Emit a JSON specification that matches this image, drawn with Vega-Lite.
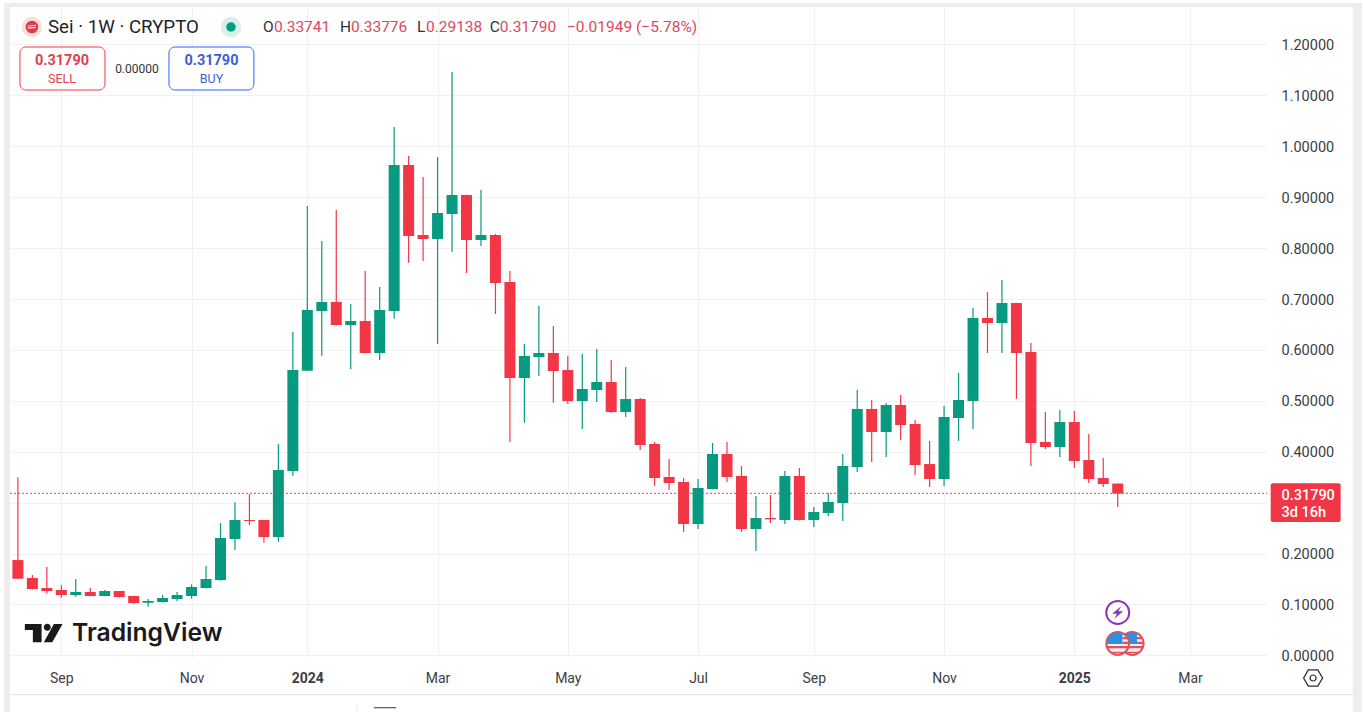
{"$schema":"https://vega.github.io/schema/vega-lite/v6.json","autosize":"none","width":1257,"height":649,"padding":{"left":10,"top":8,"right":96,"bottom":55},"background":"#ffffff","config":{"view":{"stroke":null},"font":"Roboto","axis":{"labelFont":"Roboto"}},
"datasets":{"candles":[
{"date":"2023-08-14","open":0.1872,"high":0.3497,"low":0.1493,"close":0.1505},
{"date":"2023-08-21","open":0.1519,"high":0.1578,"low":0.1289,"close":0.1303},
{"date":"2023-08-28","open":0.1322,"high":0.1735,"low":0.121,"close":0.1263},
{"date":"2023-09-04","open":0.1283,"high":0.1381,"low":0.1132,"close":0.1185},
{"date":"2023-09-11","open":0.1185,"high":0.1499,"low":0.1151,"close":0.1244},
{"date":"2023-09-18","open":0.1244,"high":0.1322,"low":0.116,"close":0.1165},
{"date":"2023-09-25","open":0.1165,"high":0.1283,"low":0.116,"close":0.1263},
{"date":"2023-10-02","open":0.1263,"high":0.1265,"low":0.1135,"close":0.1145},
{"date":"2023-10-09","open":0.1165,"high":0.117,"low":0.1008,"close":0.1027},
{"date":"2023-10-16","open":0.1033,"high":0.1106,"low":0.0955,"close":0.1067},
{"date":"2023-10-23","open":0.1047,"high":0.1185,"low":0.104,"close":0.1126},
{"date":"2023-10-30","open":0.1106,"high":0.1244,"low":0.1067,"close":0.1185},
{"date":"2023-11-06","open":0.1165,"high":0.1395,"low":0.1112,"close":0.1342},
{"date":"2023-11-13","open":0.1322,"high":0.1754,"low":0.1315,"close":0.1499},
{"date":"2023-11-20","open":0.1479,"high":0.2599,"low":0.1465,"close":0.2305},
{"date":"2023-11-27","open":0.2285,"high":0.3006,"low":0.2069,"close":0.2658},
{"date":"2023-12-04","open":0.2658,"high":0.3169,"low":0.256,"close":0.2639},
{"date":"2023-12-11","open":0.2658,"high":0.2665,"low":0.2212,"close":0.2324},
{"date":"2023-12-18","open":0.2324,"high":0.4151,"low":0.2232,"close":0.364},
{"date":"2023-12-25","open":0.3621,"high":0.6352,"low":0.3529,"close":0.5605},
{"date":"2024-01-01","open":0.5591,"high":0.8827,"low":0.5585,"close":0.6784},
{"date":"2024-01-08","open":0.6764,"high":0.8139,"low":0.5886,"close":0.6941},
{"date":"2024-01-15","open":0.6941,"high":0.8749,"low":0.6476,"close":0.6489},
{"date":"2024-01-22","open":0.6489,"high":0.6902,"low":0.5625,"close":0.6568},
{"date":"2024-01-29","open":0.6568,"high":0.755,"low":0.593,"close":0.5939},
{"date":"2024-02-05","open":0.5939,"high":0.7236,"low":0.5802,"close":0.6784},
{"date":"2024-02-12","open":0.6764,"high":1.0379,"low":0.6613,"close":0.9633},
{"date":"2024-02-19","open":0.9633,"high":0.981,"low":0.7713,"close":0.8238},
{"date":"2024-02-26","open":0.8257,"high":0.9397,"low":0.7747,"close":0.8179},
{"date":"2024-03-04","open":0.8179,"high":0.979,"low":0.6116,"close":0.869},
{"date":"2024-03-11","open":0.867,"high":1.146,"low":0.7923,"close":0.9043},
{"date":"2024-03-18","open":0.9043,"high":0.905,"low":0.7511,"close":0.8159},
{"date":"2024-03-25","open":0.8159,"high":0.9141,"low":0.8041,"close":0.8257},
{"date":"2024-04-01","open":0.8257,"high":0.8277,"low":0.6705,"close":0.7314},
{"date":"2024-04-08","open":0.7334,"high":0.755,"low":0.4191,"close":0.5448},
{"date":"2024-04-15","open":0.5448,"high":0.6116,"low":0.457,"close":0.588},
{"date":"2024-04-22","open":0.5861,"high":0.6863,"low":0.5487,"close":0.5939},
{"date":"2024-04-29","open":0.5939,"high":0.647,"low":0.4963,"close":0.5585},
{"date":"2024-05-06","open":0.5605,"high":0.588,"low":0.4937,"close":0.4996},
{"date":"2024-05-13","open":0.4996,"high":0.5919,"low":0.4446,"close":0.5232},
{"date":"2024-05-20","open":0.5212,"high":0.6018,"low":0.4976,"close":0.5369},
{"date":"2024-05-27","open":0.5369,"high":0.5802,"low":0.476,"close":0.478},
{"date":"2024-06-03","open":0.478,"high":0.5664,"low":0.4682,"close":0.5035},
{"date":"2024-06-10","open":0.5035,"high":0.5055,"low":0.4033,"close":0.4132},
{"date":"2024-06-17","open":0.4151,"high":0.4191,"low":0.3326,"close":0.3483},
{"date":"2024-06-24","open":0.3503,"high":0.3857,"low":0.3248,"close":0.3385},
{"date":"2024-07-01","open":0.3405,"high":0.3483,"low":0.2422,"close":0.258},
{"date":"2024-07-08","open":0.258,"high":0.3464,"low":0.2481,"close":0.3287},
{"date":"2024-07-15","open":0.3267,"high":0.4171,"low":0.326,"close":0.3955},
{"date":"2024-07-22","open":0.3955,"high":0.4191,"low":0.3405,"close":0.3503},
{"date":"2024-07-29","open":0.3523,"high":0.3719,"low":0.2422,"close":0.2481},
{"date":"2024-08-05","open":0.2481,"high":0.313,"low":0.2049,"close":0.2697},
{"date":"2024-08-12","open":0.2697,"high":0.3149,"low":0.2599,"close":0.2672},
{"date":"2024-08-19","open":0.2658,"high":0.3621,"low":0.258,"close":0.3523},
{"date":"2024-08-26","open":0.3523,"high":0.368,"low":0.265,"close":0.2658},
{"date":"2024-09-02","open":0.2658,"high":0.2914,"low":0.2521,"close":0.2815},
{"date":"2024-09-09","open":0.2796,"high":0.3189,"low":0.2737,"close":0.3012},
{"date":"2024-09-16","open":0.2992,"high":0.3955,"low":0.2639,"close":0.3719},
{"date":"2024-09-23","open":0.3699,"high":0.5212,"low":0.3601,"close":0.4839},
{"date":"2024-09-30","open":0.4839,"high":0.5016,"low":0.3798,"close":0.4387},
{"date":"2024-10-07","open":0.4387,"high":0.4957,"low":0.3896,"close":0.4918},
{"date":"2024-10-14","open":0.4918,"high":0.5114,"low":0.423,"close":0.4525},
{"date":"2024-10-21","open":0.4544,"high":0.4623,"low":0.3542,"close":0.3739},
{"date":"2024-10-28","open":0.3758,"high":0.421,"low":0.3306,"close":0.3464},
{"date":"2024-11-04","open":0.3464,"high":0.4898,"low":0.3326,"close":0.4682},
{"date":"2024-11-11","open":0.4662,"high":0.5546,"low":0.421,"close":0.5016},
{"date":"2024-11-18","open":0.4996,"high":0.6823,"low":0.4446,"close":0.6627},
{"date":"2024-11-25","open":0.6627,"high":0.7138,"low":0.5939,"close":0.6528},
{"date":"2024-12-02","open":0.6528,"high":0.7373,"low":0.5939,"close":0.6921},
{"date":"2024-12-09","open":0.6921,"high":0.6925,"low":0.5035,"close":0.5939},
{"date":"2024-12-16","open":0.5959,"high":0.6136,"low":0.3719,"close":0.4171},
{"date":"2024-12-23","open":0.4191,"high":0.478,"low":0.4053,"close":0.4092},
{"date":"2024-12-30","open":0.4092,"high":0.4819,"low":0.3896,"close":0.4583},
{"date":"2025-01-06","open":0.4583,"high":0.48,"low":0.368,"close":0.3817},
{"date":"2025-01-13","open":0.3837,"high":0.4348,"low":0.3385,"close":0.3464},
{"date":"2025-01-20","open":0.3483,"high":0.3876,"low":0.3306,"close":0.3365},
{"date":"2025-01-27","open":0.33741,"high":0.33776,"low":0.29138,"close":0.3179}]},
"encoding":{
"x":{"field":"date","type":"temporal","title":null,"scale":{"type":"utc","padding":0,"domain":["2023-08-10T04:20:00Z","2025-04-09T05:00:00Z"]},"axis":{"values":["2023-09-04T00:00:00Z","2023-11-06T00:00:00Z","2024-01-01T00:00:00Z","2024-03-04T00:00:00Z","2024-05-06T00:00:00Z","2024-07-08T00:00:00Z","2024-09-02T00:00:00Z","2024-11-04T00:00:00Z","2025-01-06T00:00:00Z","2025-03-03T00:00:00Z"],"labelExpr":"utcmonth(datum.value)==0 ? utcFormat(datum.value,'%Y') : utcFormat(datum.value,'%b')","labelFontWeight":{"condition":{"test":"utcmonth(datum.value)==0","value":"bold"},"value":"normal"},"domain":false,"ticks":false,"grid":true,"gridColor":"#f0f1f5","gridWidth":1,"labelFontSize":14,"labelColor":"#3a3d45","labelPadding":14,"labelFont":"Roboto","labelOverlap":false,"labelFlush":false,"title":null}},
"y":{"field":"price","type":"quantitative","title":null,"scale":{"domain":[-0.0033,1.2717],"nice":false,"zero":false},"axis":{"orient":"right","values":[0,0.1,0.2,0.3,0.4,0.5,0.6,0.7,0.8,0.9,1.0,1.1,1.2],"format":".5f","domain":false,"ticks":false,"grid":true,"gridColor":"#f0f1f5","gridWidth":1,"labelFontSize":14.5,"labelColor":"#3a3d45","labelPadding":14,"labelOffset":1,"labelFont":"Roboto","labelOverlap":false,"labelFlush":false,"labelExpr":"datum.value==0.3 ? '' : datum.label","title":null}}},
"layer":[
{"data":{"values":[
{"date":"2023-08-07T07:00:00Z","date2":"2023-08-10T04:00:00Z","price":1.2815,"price2":-0.1114},
{"date":"2023-08-07T07:00:00Z","date2":"2025-05-25T01:00:00Z","price":1.2815,"price2":1.2737},
{"date":"2025-05-20T17:00:00Z","date2":"2025-05-25T01:00:00Z","price":1.2815,"price2":-0.1114}]},
"mark":{"type":"rect","color":"#ededed"},"encoding":{"x2":{"field":"date2"},"y2":{"field":"price2"}}},
{"data":{"values":[
{"date":"2023-08-10T04:00:00Z","date2":"2025-05-20T17:00:00Z","price":-0.0774,"price2":-0.0774}]},
"mark":{"type":"rule","color":"#e4e4e6","strokeWidth":1},"encoding":{"x2":{"field":"date2"},"y2":{"field":"price2"}}},
{"data":{"values":[
{"date":"2024-01-25T00:00:00Z","date2":"2024-01-25T00:00:00Z","price":-0.0970,"price2":-0.1114}]},
"mark":{"type":"rule","color":"#e4e4e6","strokeWidth":1},"encoding":{"x2":{"field":"date2"},"y2":{"field":"price2"}}},
{"data":{"values":[
{"date":"2024-02-02T05:00:00Z","date2":"2024-02-13T00:00:00Z","price":-0.1030,"price2":-0.1030}]},
"mark":{"type":"rule","color":"#333333","strokeWidth":1},"encoding":{"x2":{"field":"date2"},"y2":{"field":"price2"}}},
{"data":{"name":"candles"},"mark":{"type":"rule","strokeWidth":1.2},"encoding":{"y":{"field":"low","type":"quantitative","title":null,"scale":{"domain":[-0.0033,1.2717],"nice":false,"zero":false}},"y2":{"field":"high"},"color":{"condition":{"test":"datum.close>=datum.open","value":"#089981"},"value":"#F23645"}}},
{"data":{"name":"candles"},"mark":{"type":"bar","size":11,"orient":"vertical"},"encoding":{"y":{"field":"open","type":"quantitative","title":null,"scale":{"domain":[-0.0033,1.2717],"nice":false,"zero":false}},"y2":{"field":"close"},"color":{"condition":{"test":"datum.close>=datum.open","value":"#089981"},"value":"#F23645"}}},
{"data":{"values":[{"date":"2023-08-10T04:20:00Z","date2":"2025-04-09T05:00:00Z","price":0.3183,"price2":0.3183}]},"mark":{"type":"rule","color":"#F23645","strokeWidth":1,"strokeDash":[2,2]},"encoding":{"x2":{"field":"date2"},"y2":{"field":"price2"}}},
{"data":{"values":[{"date":"2025-04-11T00:00:00Z","date2":"2025-05-14T20:00:00Z","price":0.3379,"price2":0.2619}]},"mark":{"type":"rect","color":"#F23645","cornerRadius":2},"encoding":{"x2":{"field":"date2"},"y2":{"field":"price2"}}},
{"data":{"values":[{"date":"2025-04-16T04:00:00Z","price":0.3135,"label":"0.31790"},{"date":"2025-04-16T04:00:00Z","price":0.28,"label":"3d 16h"}]},"mark":{"type":"text","align":"left","baseline":"middle","font":"Roboto","fontSize":14.5,"color":"#ffffff","fontWeight":500},"encoding":{"text":{"field":"label"}}},
{"data":{"values":[{"date":"2023-08-15T00:00:00Z","date2":"2023-09-25T03:00:00Z","price":1.1951,"price2":1.1106,"c":"sell"},{"date":"2023-10-26T02:00:00Z","date2":"2023-12-06T04:00:00Z","price":1.1951,"price2":1.1106,"c":"buy"}]},"mark":{"type":"rect","fill":"#ffffff","cornerRadius":6,"strokeWidth":1},"encoding":{"x2":{"field":"date2"},"y2":{"field":"price2"},"stroke":{"field":"c","type":"nominal","legend":null,"scale":{"domain":["sell","buy"],"range":["#F23645","#2962FF"]}}}},
{"data":{"values":[{"date":"2023-09-04T08:00:00Z","price":1.1675,"label":"0.31790"}]},"mark":{"type":"text","align":"center","baseline":"middle","font":"Roboto","fontSize":14.5,"fontWeight":"bold","color":"#e0414f"},"encoding":{"text":{"field":"label"}}},
{"data":{"values":[{"date":"2023-09-04T08:00:00Z","price":1.1321,"label":"SELL"}]},"mark":{"type":"text","align":"center","baseline":"middle","font":"Roboto","fontSize":12.5,"color":"#e0414f"},"encoding":{"text":{"field":"label"}}},
{"data":{"values":[{"date":"2023-11-15T15:00:00Z","price":1.1675,"label":"0.31790"}]},"mark":{"type":"text","align":"center","baseline":"middle","font":"Roboto","fontSize":14.5,"fontWeight":"bold","color":"#3b5fd0"},"encoding":{"text":{"field":"label"}}},
{"data":{"values":[{"date":"2023-11-15T15:00:00Z","price":1.1321,"label":"BUY"}]},"mark":{"type":"text","align":"center","baseline":"middle","font":"Roboto","fontSize":12.5,"color":"#3b5fd0"},"encoding":{"text":{"field":"label"}}},
{"data":{"values":[{"date":"2023-10-10T14:00:00Z","price":1.1518,"label":"0.00000"}]},"mark":{"type":"text","align":"center","baseline":"middle","font":"Roboto","fontSize":12,"color":"#333333"},"encoding":{"text":{"field":"label"}}},
{"data":{"values":[{"date":"2023-08-28T13:00:00Z","price":1.2334,"label":"Sei · 1W · CRYPTO"}]},"mark":{"type":"text","align":"left","baseline":"middle","font":"Roboto","fontSize":18.7,"color":"#1f2229"},"encoding":{"text":{"field":"label"}}},
{"data":{"values":[{"date":"2023-12-10T12:00:00Z","price":1.2334,"label":"O"},{"date":"2024-01-16T19:00:00Z","price":1.2334,"label":"H"},{"date":"2024-02-23T00:00:00Z","price":1.2334,"label":"L"},{"date":"2024-03-29T07:00:00Z","price":1.2334,"label":"C"}]},"mark":{"type":"text","align":"left","baseline":"middle","font":"Roboto","fontSize":15.5,"color":"#333333"},"encoding":{"text":{"field":"label"}}},
{"data":{"values":[{"date":"2023-12-15T20:00:00Z","price":1.2334,"label":"0.33741"},{"date":"2024-01-22T02:00:00Z","price":1.2334,"label":"0.33776"},{"date":"2024-02-27T09:00:00Z","price":1.2334,"label":"0.29138"},{"date":"2024-04-03T03:00:00Z","price":1.2334,"label":"0.31790"},{"date":"2024-05-05T14:00:00Z","price":1.2334,"label":"−0.01949 (−5.78%)"}]},"mark":{"type":"text","align":"left","baseline":"middle","font":"Roboto","fontSize":15.5,"color":"#e0475e"},"encoding":{"text":{"field":"label"}}},
{"data":{"values":[{"date":"2023-09-09T04:00:00Z","price":0.0418,"label":"TradingView"}]},"mark":{"type":"text","align":"left","baseline":"middle","font":"Inter","fontSize":24.7,"fontWeight":600,"color":"#1a1a1c"},"encoding":{"text":{"field":"label"}}},
{"data":{"values":[{"date":"2023-08-26T10:00:00Z","price":0.0438}]},"mark":{"type":"point","filled":true,"opacity":1,"size":1369,"color":"#1a1a1c","shape":"M-1.011,-0.486L-0.108,-0.486L-0.108,0.503L-0.578,0.503L-0.578,-0.162L-1.011,-0.162ZM0.557,-0.486L1.027,-0.486L0.47,0.503L0.016,0.503ZM0.01,-0.308a0.19,0.19 0 1,0 0.38,0a0.19,0.19 0 1,0 -0.38,0Z"}},
{"data":{"values":[{"date":"2023-08-20T19:00:00Z","price":1.2344}]},"mark":{"type":"point","filled":true,"opacity":1,"size":420,"color":"#f6e2d0","shape":"circle"}},
{"data":{"values":[{"date":"2023-08-20T19:00:00Z","price":1.2344}]},"mark":{"type":"point","filled":true,"opacity":1,"size":160,"color":"#d93a57","shape":"circle"}},
{"data":{"values":[{"date":"2023-08-20T19:00:00Z","price":1.2344}]},"mark":{"type":"point","filled":true,"opacity":1,"size":100,"color":"#f6dfe0","shape":"M-0.8,-0.3L0.8,-0.45L0.85,-0.25L-0.85,-0.1ZM-0.85,0.12L0.85,-0.05L0.8,0.2L-0.8,0.35Z"}},
{"data":{"values":[{"date":"2023-11-25T02:00:00Z","price":1.2344}]},"mark":{"type":"point","filled":true,"opacity":1,"size":420,"color":"#d7f0ea","shape":"circle"}},
{"data":{"values":[{"date":"2023-11-25T02:00:00Z","price":1.2344}]},"mark":{"type":"point","filled":true,"opacity":1,"size":90,"color":"#089981","shape":"circle"}},
{"data":{"values":[{"date":"2025-02-03T00:00:00Z","price":0.0232}]},"mark":{"type":"point","filled":true,"opacity":1,"size":520,"fill":"#fbeeee","stroke":"#e0525c","strokeWidth":2,"shape":"circle"}},
{"data":{"values":[{"date":"2025-02-03T00:00:00Z","price":0.0232}]},"mark":{"type":"point","filled":true,"opacity":1,"size":576,"color":"#e0525c","shape":"M0.4,-0.55L0.75,-0.55L0.85,-0.35L0.4,-0.35ZM0.4,-0.15L0.92,-0.15L0.92,0.05L0.4,0.05ZM-0.9,0.2L0.9,0.2L0.85,0.4L-0.85,0.4ZM-0.55,0.68L0.55,0.68L0.4,0.82L-0.4,0.82Z"}},
{"data":{"values":[{"date":"2025-02-03T00:00:00Z","price":0.0232}]},"mark":{"type":"point","filled":true,"opacity":1,"size":576,"color":"#2f8fe0","shape":"M-0.4,-0.9L0.4,-0.9L0.4,0.05L-0.92,0.05L-0.85,-0.4Z"}},
{"data":{"values":[{"date":"2025-01-27T00:00:00Z","price":0.0232}]},"mark":{"type":"point","filled":true,"opacity":1,"size":520,"fill":"#fbeeee","stroke":"#e0525c","strokeWidth":2,"shape":"circle"}},
{"data":{"values":[{"date":"2025-01-27T00:00:00Z","price":0.0232}]},"mark":{"type":"point","filled":true,"opacity":1,"size":576,"color":"#e0525c","shape":"M0.4,-0.55L0.75,-0.55L0.85,-0.35L0.4,-0.35ZM0.4,-0.15L0.92,-0.15L0.92,0.05L0.4,0.05ZM-0.9,0.2L0.9,0.2L0.85,0.4L-0.85,0.4ZM-0.55,0.68L0.55,0.68L0.4,0.82L-0.4,0.82Z"}},
{"data":{"values":[{"date":"2025-01-27T00:00:00Z","price":0.0232}]},"mark":{"type":"point","filled":true,"opacity":1,"size":576,"color":"#2f8fe0","shape":"M-0.4,-0.9L0.4,-0.9L0.4,0.05L-0.92,0.05L-0.85,-0.4Z"}},
{"data":{"values":[{"date":"2025-01-27T00:00:00Z","price":0.0841}]},"mark":{"type":"point","filled":true,"opacity":1,"size":529,"fill":"#ffffff","stroke":"#8e35b5","strokeWidth":2,"shape":"circle"}},
{"data":{"values":[{"date":"2025-01-27T00:00:00Z","price":0.0841}]},"mark":{"type":"point","filled":true,"opacity":1,"size":576,"color":"#8e35b5","shape":"M0.3,-0.55L-0.45,0.1L-0.05,0.1L-0.3,0.55L0.45,-0.1L0.05,-0.1Z"}},
{"data":{"values":[{"date":"2025-05-01T12:00:00Z","price":-0.0446}]},"mark":{"type":"point","filled":false,"opacity":1,"size":361,"stroke":"#2a2e39","strokeWidth":1.3,"shape":"M-1,0L-0.5,-0.85L0.5,-0.85L1,0L0.5,0.85L-0.5,0.85Z"}},
{"data":{"values":[{"date":"2025-05-01T12:00:00Z","price":-0.0446}]},"mark":{"type":"point","filled":false,"opacity":1,"size":36,"stroke":"#2a2e39","strokeWidth":1.2,"shape":"circle"}}
]}
